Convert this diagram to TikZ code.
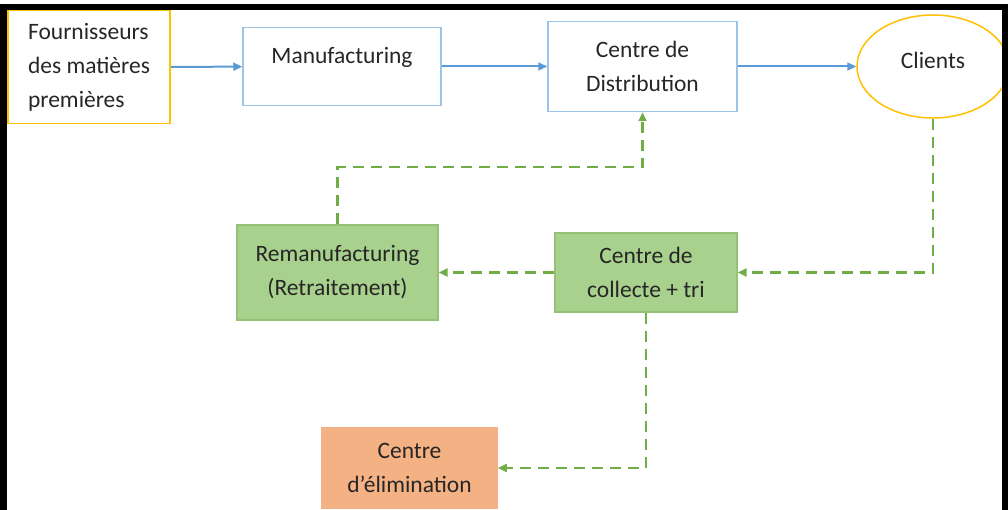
\documentclass[tikz,border=0pt]{standalone}
\usepackage{fontspec}
\setmainfont{Carlito}
\usetikzlibrary{arrows.meta,positioning,shapes.geometric}
\definecolor{bleuTrait}{HTML}{5B9BD5}
\definecolor{bleuCadre}{HTML}{9DC3E6}
\definecolor{jaune}{HTML}{FFC000}
\definecolor{vertFond}{HTML}{A9D18E}
\definecolor{vertTrait}{HTML}{70AD47}
\definecolor{orangeFond}{HTML}{F4B183}

\begin{document}
\begin{tikzpicture}[
  x=1pt, y=-1pt,
  font=\fontsize{23.5}{34}\selectfont,
  bloc/.style={draw, line width=1.5pt, inner sep=4pt, align=center, text=black!85},
  flux/.style={bloc, draw=bleuCadre},
  retour/.style={bloc, draw=vertTrait!75, line width=1.2pt, fill=vertFond},
  aller/.style={-{Triangle[length=9pt,width=8pt]}, line width=2pt, draw=bleuTrait},
  recup/.style={-{Triangle[length=9pt,width=8pt]}, line width=2.2pt, draw=vertTrait,
                dash pattern=on 11pt off 7pt}
]
\useasboundingbox (0,0) rectangle (1008,510);
\clip (0,0) rectangle (1008,510);

% chaine directe
\node[bloc, draw=jaune, align=left, minimum width=162, minimum height=113] (four) at (89,67) {Fournisseurs\\des matières\\premières};
\node[flux, minimum width=198, minimum height=78] (manu) at (342,66.5) {\raisebox{9pt}[\height][\depth]{Manufacturing}};
\node[flux, minimum width=189, minimum height=90] (dist) at (642.5,66.5) {Centre de\\Distribution};
\node[bloc, ellipse, draw=jaune, minimum width=152, minimum height=103] (clients) at (933,66.5) {\raisebox{6pt}[\height][\depth]{Clients}};

% chaine inverse
\node[retour, minimum width=201, minimum height=95] (reman) at (337.5,272.5) {Remanufacturing\\(Retraitement)};
\node[retour, minimum width=182, minimum height=79] (collecte) at (646,272.5) {Centre de\\collecte + tri};
\node[bloc, draw=orangeFond, fill=orangeFond, minimum width=175, minimum height=80] (elim) at (409.5,468) {Centre\\d’élimination};

\draw[aller] (four) -- (manu);
\draw[aller] (manu) -- (dist);
\draw[aller] (dist) -- (clients);
\draw[recup] (clients.south) |- (collecte.east);
\draw[recup] (collecte) -- (reman);
\draw[recup] (reman.north) -- ++(0,-57) -| (dist.south);
\draw[recup] (collecte.south) |- (elim.east);

% cadre
\draw[line width=6.5pt] (3.5,530) |- (1005,7) -- (1005,530);
\end{tikzpicture}
\end{document}
